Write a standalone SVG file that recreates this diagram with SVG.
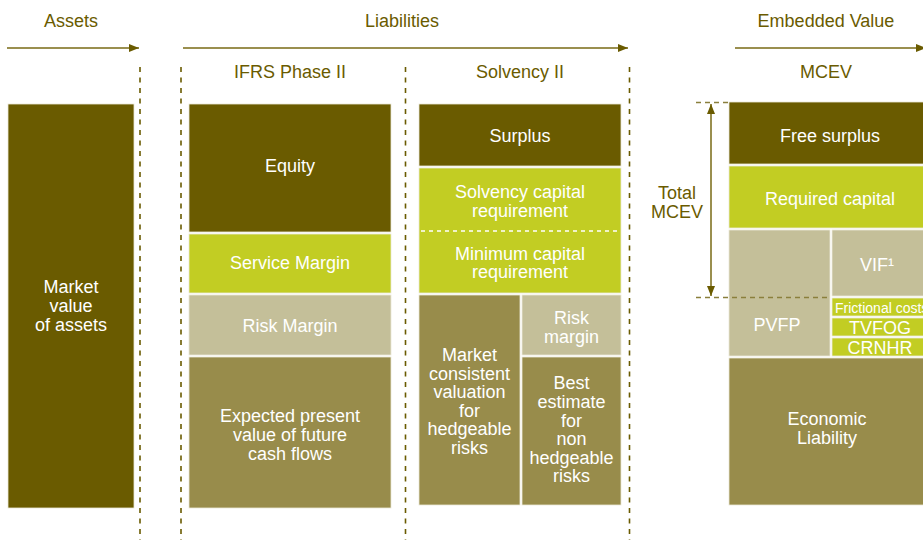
<svg xmlns="http://www.w3.org/2000/svg" width="923" height="540" viewBox="0 0 923 540">
  <defs>
    <marker id="head" viewBox="0 0 10 8" refX="10" refY="4" markerWidth="10" markerHeight="8" markerUnits="userSpaceOnUse" orient="auto-start-reverse">
      <path d="M0,0 L10,4 L0,8 Z" fill="#6a5b00"/>
    </marker>
    <style>
      .hd { font-family: "Liberation Sans", Arial, sans-serif; font-size: 18px; fill: #6a5b00; text-anchor: middle; }
      .lb { font-family: "Liberation Sans", Arial, sans-serif; font-size: 18px; fill: #ffffff; text-anchor: middle; }
      .sm { font-size: 14px; text-anchor: start; }
      .dark { fill: #6a5b00; }
      .lime { fill: #c2cd23; }
      .tan { fill: #c4bf99; }
      .mid { fill: #988c4b; }
      .box { stroke: #ebe8d8; stroke-width: 0.8; }
      .arrow { stroke: #9a8f4f; stroke-width: 2; fill: none; }
      .vdash { stroke: #6a5b00; stroke-width: 1.6; stroke-dasharray: 5 5.5; fill: none; }
      .hdash { stroke: #8a7f3c; stroke-width: 1.6; stroke-dasharray: 5 4; fill: none; }
      .wdash { stroke: #ffffff; stroke-width: 1.6; stroke-dasharray: 4 4; fill: none; }
    </style>
  </defs>

  <!-- section headings -->
  <g id="headings">
    <text class="hd" x="71" y="27">Assets</text>
    <text class="hd" x="402" y="27">Liabilities</text>
    <text class="hd" x="826" y="27">Embedded Value</text>
    <text class="hd" x="290" y="78">IFRS Phase II</text>
    <text class="hd" x="520" y="78">Solvency II</text>
    <text class="hd" x="826" y="78">MCEV</text>
  </g>

  <!-- arrows and separators -->
  <g id="connectors">
    <line class="arrow" x1="7" y1="48" x2="139" y2="48" marker-end="url(#head)"/>
    <line class="arrow" x1="183" y1="48" x2="628" y2="48" marker-end="url(#head)"/>
    <line class="arrow" x1="735" y1="48" x2="926" y2="48" marker-end="url(#head)"/>
    <line class="vdash" x1="140" y1="67" x2="140" y2="540"/>
    <line class="vdash" x1="181" y1="67" x2="181" y2="540"/>
    <line class="vdash" x1="405.5" y1="67" x2="405.5" y2="540"/>
    <line class="vdash" x1="629.5" y1="67" x2="629.5" y2="540"/>
  </g>

  <!-- assets column -->
  <g id="assets">
    <rect class="box dark" x="8" y="104" width="126" height="404"/>
    <text class="lb" x="71" y="293">Market</text>
    <text class="lb" x="71" y="312">value</text>
    <text class="lb" x="71" y="331">of assets</text>
  </g>

  <!-- IFRS Phase II column -->
  <g id="ifrs-equity">
    <rect class="box dark" x="189" y="104" width="202" height="128"/>
    <text class="lb" x="290" y="172">Equity</text>
  </g>
  <g id="ifrs-service-margin">
    <rect class="box lime" x="189" y="234" width="202" height="59"/>
    <text class="lb" x="290" y="269">Service Margin</text>
  </g>
  <g id="ifrs-risk-margin">
    <rect class="box tan" x="189" y="295" width="202" height="60"/>
    <text class="lb" x="290" y="332">Risk Margin</text>
  </g>
  <g id="ifrs-cash-flows">
    <rect class="box mid" x="189" y="357" width="202" height="151"/>
    <text class="lb" x="290" y="422">Expected present</text>
    <text class="lb" x="290" y="441">value of future</text>
    <text class="lb" x="290" y="460">cash flows</text>
  </g>

  <!-- Solvency II column -->
  <g id="sii-surplus">
    <rect class="box dark" x="419" y="104" width="202" height="62"/>
    <text class="lb" x="520" y="142">Surplus</text>
  </g>
  <g id="sii-capital">
    <rect class="box lime" x="419" y="168" width="202" height="125"/>
    <line class="wdash" x1="421" y1="231" x2="621" y2="231"/>
    <text class="lb" x="520" y="198">Solvency capital</text>
    <text class="lb" x="520" y="217">requirement</text>
    <text class="lb" x="520" y="260">Minimum capital</text>
    <text class="lb" x="520" y="277.5">requirement</text>
  </g>
  <g id="sii-hedgeable">
    <rect class="box mid" x="419" y="295" width="101" height="210"/>
    <text class="lb" x="469.5" y="361">Market</text>
    <text class="lb" x="469.5" y="379.5">consistent</text>
    <text class="lb" x="469.5" y="398">valuation</text>
    <text class="lb" x="469.5" y="416.5">for</text>
    <text class="lb" x="469.5" y="435">hedgeable</text>
    <text class="lb" x="469.5" y="453.5">risks</text>
  </g>
  <g id="sii-risk-margin">
    <rect class="box tan" x="522" y="295" width="99" height="60"/>
    <text class="lb" x="571.5" y="324">Risk</text>
    <text class="lb" x="571.5" y="342.5">margin</text>
  </g>
  <g id="sii-best-estimate">
    <rect class="box mid" x="522" y="357" width="99" height="148"/>
    <text class="lb" x="571.5" y="389">Best</text>
    <text class="lb" x="571.5" y="408">estimate</text>
    <text class="lb" x="571.5" y="426.5">for</text>
    <text class="lb" x="571.5" y="445">non</text>
    <text class="lb" x="571.5" y="463.5">hedgeable</text>
    <text class="lb" x="571.5" y="482">risks</text>
  </g>

  <!-- MCEV column -->
  <g id="mcev-free-surplus">
    <rect class="box dark" x="729" y="102" width="202" height="62"/>
    <text class="lb" x="830" y="142">Free surplus</text>
  </g>
  <g id="mcev-required-capital">
    <rect class="box lime" x="729" y="166" width="202" height="62"/>
    <text class="lb" x="830" y="205">Required capital</text>
  </g>
  <g id="mcev-pvfp">
    <rect class="box tan" x="729" y="230" width="101" height="126"/>
    <text class="lb" x="777" y="331">PVFP</text>
  </g>
  <g id="mcev-vif">
    <rect class="box tan" x="832" y="230" width="99" height="66"/>
    <text class="lb" x="877" y="271">VIF¹</text>
  </g>
  <g id="mcev-frictional">
    <rect class="box lime" x="832" y="298" width="99" height="18"/>
    <text class="lb sm" x="835" y="313">Frictional costs</text>
  </g>
  <g id="mcev-tvfog">
    <rect class="box lime" x="832" y="318" width="99" height="18"/>
    <text class="lb" x="880" y="333.5">TVFOG</text>
  </g>
  <g id="mcev-crnhr">
    <rect class="box lime" x="832" y="338" width="99" height="18"/>
    <text class="lb" x="880" y="353.5">CRNHR</text>
  </g>
  <g id="mcev-economic-liability">
    <rect class="box mid" x="729" y="358" width="202" height="147"/>
    <text class="lb" x="827" y="425">Economic</text>
    <text class="lb" x="827" y="444">Liability</text>
  </g>

  <!-- Total MCEV span -->
  <g id="total-mcev">
    <line class="hdash" x1="696" y1="102.5" x2="729" y2="102.5"/>
    <line class="hdash" x1="696" y1="297.5" x2="830" y2="297.5"/>
    <line class="arrow" x1="711" y1="104" x2="711" y2="296" marker-start="url(#head)" marker-end="url(#head)"/>
    <text class="hd" x="677" y="199">Total</text>
    <text class="hd" x="677" y="218">MCEV</text>
  </g>
</svg>
